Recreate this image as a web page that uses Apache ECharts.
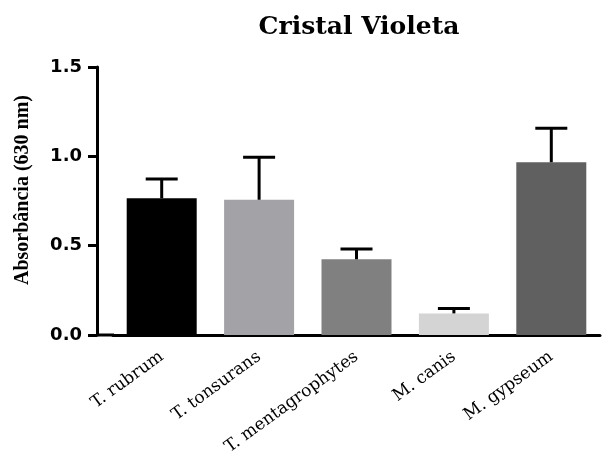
<!DOCTYPE html>
<html>
<head>
<meta charset="utf-8">
<script src="https://cdn.jsdelivr.net/npm/echarts@6/dist/echarts.min.js"></script>
<style>
  html, body { margin: 0; padding: 0; background: #fff; }
  #chart { width: 616px; height: 452px; }
</style>
</head>
<body>
<div id="chart"></div>
<script>
// data
const species = ['T. rubrum', 'T. tonsurans', 'T. mentagrophytes', 'M. canis', 'M. gypseum'];
const absorbance = [0.765, 0.757, 0.424, 0.121, 0.967];
const errorUpper = [0.873, 0.995, 0.481, 0.149, 1.157];
const barColors = ['#000000', '#a3a2a7', '#808080', '#d4d4d4', '#606060'];
const yTicks = [0, 0.5, 1.0, 1.5];

const chart = echarts.init(document.getElementById('chart'));

const option = {
  animation: false,
  title: {
    text: 'Cristal Violeta',
    left: 354,
    top: 10,
    textAlign: 'center',
    textStyle: {
      fontFamily: 'DejaVu Serif',
      fontWeight: 'bold',
      fontSize: 25,
      color: '#000'
    }
  },
  grid: {
    left: 113,
    right: 16,
    top: 67,
    bottom: 117,
    outerBoundsMode: 'none'
  },
  xAxis: {
    type: 'category',
    data: species,
    axisLine: { lineStyle: { color: '#000', width: 3 } },
    axisTick: { alignWithLabel: true, length: 7, lineStyle: { color: '#000', width: 3 } },
    axisLabel: {
      rotate: 36,
      margin: 20,
      color: '#000',
      fontFamily: 'DejaVu Serif',
      fontSize: 17,
      interval: 0
    }
  },
  yAxis: {
    type: 'value',
    min: 0,
    max: yTicks[yTicks.length - 1],
    interval: 0.5,
    offset: 16,
    name: 'Absorbância (630 nm)',
    nameLocation: 'middle',
    nameGap: 64,
    nameTextStyle: {
      fontFamily: 'Liberation Serif',
      fontWeight: 'bold',
      fontSize: 20,
      color: '#000',
      padding: [0, 0, 0, 22]
    },
    axisLine: { show: true, lineStyle: { color: '#000', width: 3 } },
    axisTick: { show: true, length: 9, lineStyle: { color: '#000', width: 3 } },
    splitLine: { show: false },
    axisLabel: {
      margin: 15,
      color: '#000',
      fontFamily: 'DejaVu Sans',
      fontWeight: 'bold',
      fontSize: 18,
      formatter: v => v.toFixed(1)
    }
  },
  graphic: [{
    // x axis line continues to the offset y axis
    type: 'line',
    shape: { x1: 96, y1: 335, x2: 114, y2: 335 },
    style: { stroke: '#000', lineWidth: 3 },
    z: 10
  }],
  series: [
    {
      type: 'bar',
      barWidth: 70,
      data: absorbance.map((v, i) => ({ value: v, itemStyle: { color: barColors[i] } }))
    },
    {
      type: 'custom',
      data: absorbance.map((v, i) => [i, v, errorUpper[i]]),
      renderItem: function (params, api) {
        const base = api.coord([api.value(0), api.value(1)]);
        const top = api.coord([api.value(0), api.value(2)]);
        const half = 16;
        return {
          type: 'group',
          children: [
            { type: 'line', shape: { x1: base[0], y1: base[1], x2: top[0], y2: top[1] },
              style: { stroke: '#000', lineWidth: 3 } },
            { type: 'line', shape: { x1: top[0] - half, y1: top[1], x2: top[0] + half, y2: top[1] },
              style: { stroke: '#000', lineWidth: 3 } }
          ]
        };
      },
      z: 3
    }
  ]
};

chart.setOption(option);
</script>
</body>
</html>
